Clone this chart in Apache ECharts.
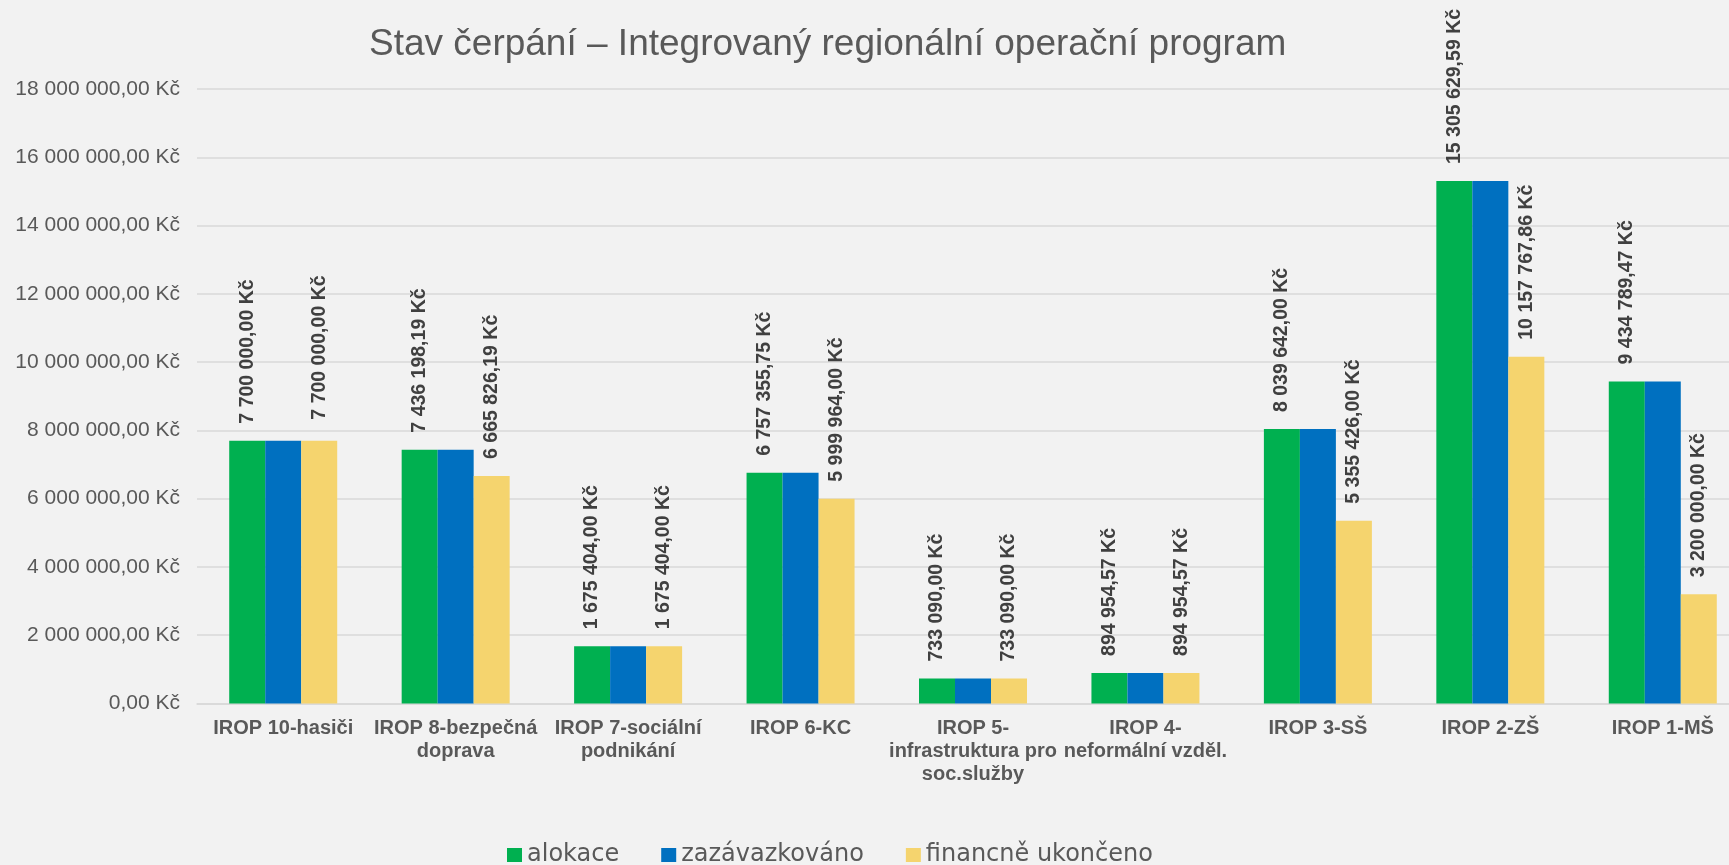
<!DOCTYPE html>
<html>
<head>
<meta charset="utf-8">
<script src="https://cdn.jsdelivr.net/npm/echarts@6/dist/echarts.min.js"></script>
<style>
  html, body { margin: 0; padding: 0; background: #f2f2f2; }
  #chart { width: 1729px; height: 865px; }
</style>
</head>
<body>
<div id="chart"></div>
<script>
const categories = [
  "IROP 10-hasiči",
  "IROP 8-bezpečná\ndoprava",
  "IROP 7-sociální\npodnikání",
  "IROP 6-KC",
  "IROP 5-\ninfrastruktura pro\nsoc.služby",
  "IROP 4-\nneformální vzděl.",
  "IROP 3-SŠ",
  "IROP 2-ZŠ",
  "IROP 1-MŠ"
];
const alokace = [7700000, 7436198.19, 1675404, 6757355.75, 733090, 894954.57, 8039642, 15305629.59, 9434789.47];
const zazavazkovano = [7700000, 7436198.19, 1675404, 6757355.75, 733090, 894954.57, 8039642, 15305629.59, 9434789.47];
const ukonceno = [7700000, 6665826.19, 1675404, 5999964, 733090, 894954.57, 5355426, 10157767.86, 3200000];

const yMin = 0, yMax = 18000000, yStep = 2000000;

function kc(v) {
  const parts = Number(v).toFixed(2).split(".");
  return parts[0].replace(/\B(?=(\d{3})+(?!\d))/g, " ") + "," + parts[1] + " Kč";
}

const font = "'Liberation Sans', Arial, sans-serif";
const grey = "#595959";

const barLabel = {
  show: true,
  position: "top",
  rotate: 90,
  align: "left",
  verticalAlign: "middle",
  distance: 17,
  fontFamily: font,
  fontSize: 19.5,
  fontWeight: "bold",
  color: "#404040",
  formatter: (p) => kc(p.value)
};

// first yellow label sits a bit higher in the original (moved label)
const ukoncenoData = ukonceno.map((v, i) => (i === 0 ? { value: v, label: { distance: 21 } } : v));

const chart = echarts.init(document.getElementById("chart"));
chart.setOption({
  backgroundColor: "#f2f2f2",
  animation: false,
  title: {
    text: "Stav čerpání – Integrovaný regionální operační program",
    left: 364,
    top: 21,
    textStyle: { fontFamily: font, fontSize: 37, fontWeight: "normal", color: grey }
  },
  legend: {
    left: 502,
    top: 836,
    itemWidth: 15,
    itemHeight: 14,
    itemGap: 42,
    icon: "rect",
    textStyle: { fontFamily: "'DejaVu Sans', sans-serif", fontSize: 24, color: grey, lineHeight: 28 },
    data: ["alokace", "zazávazkováno", "financně ukončeno"]
  },
  grid: {
    left: 197,
    top: 89,
    width: 1552,
    height: 614.5,
    containLabel: false,
    outerBoundsMode: "none"
  },
  xAxis: {
    type: "category",
    data: categories,
    axisTick: { show: false },
    axisLine: { lineStyle: { color: "#d9d9d9", width: 1.5 } },
    axisLabel: {
      interval: 0,
      margin: 13,
      fontFamily: font,
      fontSize: 20,
      fontWeight: "bold",
      lineHeight: 23,
      color: grey
    }
  },
  yAxis: {
    type: "value",
    min: yMin,
    max: yMax,
    interval: yStep,
    axisLine: { show: false },
    axisTick: { show: false },
    splitLine: { lineStyle: { color: "#d9d9d9", width: 1.5 } },
    axisLabel: {
      margin: 17,
      fontFamily: font,
      fontSize: 21,
      color: grey,
      formatter: (v) => kc(v)
    }
  },
  series: [
    {
      name: "alokace",
      type: "bar",
      barWidth: 36,
      barGap: "0%",
      itemStyle: { color: "#00b050" },
      label: barLabel,
      data: alokace
    },
    {
      name: "zazávazkováno",
      type: "bar",
      barWidth: 36,
      barGap: "0%",
      itemStyle: { color: "#0070c0" },
      data: zazavazkovano
    },
    {
      name: "financně ukončeno",
      type: "bar",
      barWidth: 36,
      barGap: "0%",
      itemStyle: { color: "#f5d46e" },
      label: barLabel,
      data: ukoncenoData
    }
  ]
});
</script>
</body>
</html>
